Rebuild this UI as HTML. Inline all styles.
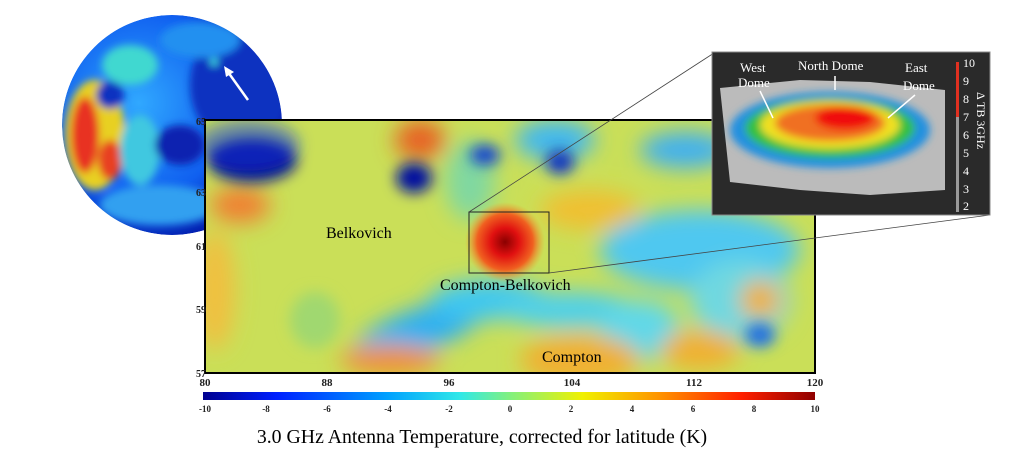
<!DOCTYPE html>
<html><head><meta charset="utf-8"><style>
body{margin:0;background:#fff;width:1024px;height:475px;overflow:hidden}
svg{display:block}
text{font-family:"Liberation Serif",serif}
</style></head><body>
<svg width="1024" height="475" viewBox="0 0 1024 475">
<defs>
<filter id="b8" x="-50%" y="-50%" width="200%" height="200%"><feGaussianBlur stdDeviation="7"/></filter>
<filter id="b4" x="-50%" y="-50%" width="200%" height="200%"><feGaussianBlur stdDeviation="4"/></filter>
<filter id="b12" x="-50%" y="-50%" width="200%" height="200%"><feGaussianBlur stdDeviation="11"/></filter>
<radialGradient id="red"><stop offset="0" stop-color="#8a0000"/><stop offset=".35" stop-color="#e01010"/><stop offset=".7" stop-color="#f06020"/><stop offset="1" stop-color="#f0a030" stop-opacity="0"/></radialGradient>
<linearGradient id="jet" x1="0" x2="1"><stop offset="0" stop-color="#00008f"/><stop offset=".12" stop-color="#0020ff"/><stop offset=".3" stop-color="#00a0ff"/><stop offset=".42" stop-color="#30e8e8"/><stop offset=".5" stop-color="#80f080"/><stop offset=".62" stop-color="#f0f000"/><stop offset=".75" stop-color="#ff9000"/><stop offset=".88" stop-color="#ff2000"/><stop offset="1" stop-color="#8f0000"/></linearGradient>
<radialGradient id="glob" cx=".35" cy=".4" r=".7"><stop offset="0" stop-color="#30a8ff"/><stop offset=".6" stop-color="#1060f0"/><stop offset="1" stop-color="#0010a0"/></radialGradient>
<clipPath id="gc"><circle cx="172" cy="125" r="110"/></clipPath>
<clipPath id="mc"><rect x="205" y="120" width="610" height="253"/></clipPath>
<clipPath id="ic"><rect x="714" y="54" width="262" height="159"/></clipPath>
</defs>
<g clip-path="url(#gc)">
<circle cx="172" cy="125" r="110" fill="url(#glob)"/>
<g filter="url(#b4)">
<ellipse cx="95" cy="135" rx="30" ry="55" fill="#e8d020"/>
<ellipse cx="85" cy="135" rx="14" ry="38" fill="#e83020"/>
<ellipse cx="110" cy="160" rx="12" ry="20" fill="#e84020"/>
<ellipse cx="130" cy="65" rx="28" ry="20" fill="#40d8d0"/>
<ellipse cx="110" cy="95" rx="14" ry="14" fill="#1030c0"/>
<ellipse cx="140" cy="150" rx="20" ry="35" fill="#40c8e0"/>
<ellipse cx="180" cy="145" rx="25" ry="20" fill="#0820b0"/>
<ellipse cx="240" cy="85" rx="50" ry="60" fill="#0a30c0"/>
<ellipse cx="200" cy="40" rx="40" ry="18" fill="#2090f0"/>
<ellipse cx="160" cy="205" rx="60" ry="20" fill="#30a0f0"/>
<circle cx="214" cy="62" r="4" fill="#40e0e0"/>
</g>
</g>
<line x1="248" y1="100" x2="228" y2="72" stroke="#fff" stroke-width="2.5"/>
<polygon points="224,66 234,72 226,77" fill="#fff"/>
<g clip-path="url(#mc)">
<rect x="205" y="120" width="610" height="253" fill="#cadf58"/>
<g filter="url(#b12)">
<ellipse cx="420" cy="330" rx="70" ry="22" fill="#30b0f0" transform="rotate(-20 420 330)"/>
<ellipse cx="490" cy="300" rx="60" ry="20" fill="#40c8f0"/>
<ellipse cx="570" cy="310" rx="70" ry="18" fill="#50d0ea"/>
<ellipse cx="640" cy="330" rx="40" ry="30" fill="#60d8e8"/>
<ellipse cx="700" cy="250" rx="100" ry="40" fill="#50c8f0"/>
<ellipse cx="740" cy="300" rx="50" ry="40" fill="#70d8e0"/>
<ellipse cx="580" cy="360" rx="60" ry="25" fill="#f0b030"/>
<ellipse cx="390" cy="360" rx="50" ry="15" fill="#f09030"/>
<ellipse cx="240" cy="205" rx="30" ry="18" fill="#f08030"/>
<ellipse cx="420" cy="140" rx="25" ry="20" fill="#e86020"/>
<ellipse cx="555" cy="140" rx="40" ry="20" fill="#40b8f0"/>
<ellipse cx="685" cy="150" rx="45" ry="18" fill="#40b0f0"/>
<ellipse cx="770" cy="150" rx="40" ry="25" fill="#70d0e0"/>
<ellipse cx="590" cy="210" rx="50" ry="20" fill="#f0c030"/>
<ellipse cx="760" cy="300" rx="20" ry="20" fill="#f0b030"/>
<ellipse cx="700" cy="350" rx="40" ry="20" fill="#f0b030"/>
<ellipse cx="470" cy="180" rx="25" ry="40" fill="#80d8a0"/>
<ellipse cx="215" cy="290" rx="20" ry="60" fill="#f0c040"/>
</g>
<g filter="url(#b8)">
<ellipse cx="252" cy="160" rx="45" ry="22" fill="#000890"/>
<ellipse cx="248" cy="145" rx="52" ry="26" fill="#1040e0" opacity=".5"/>
<ellipse cx="414" cy="178" rx="18" ry="15" fill="#0010a0"/>
<ellipse cx="485" cy="155" rx="15" ry="10" fill="#1040d0"/>
<ellipse cx="560" cy="162" rx="14" ry="12" fill="#1030c0"/>
<ellipse cx="315" cy="320" rx="25" ry="28" fill="#a0d870"/>
<ellipse cx="760" cy="335" rx="15" ry="12" fill="#2070e0"/>
</g>
<circle cx="505" cy="242" r="40" fill="url(#red)"/>
<rect x="469" y="212" width="80" height="61" fill="none" stroke="#222" stroke-width="1"/>
</g>
<rect x="205" y="120" width="610" height="253" fill="none" stroke="#000" stroke-width="2"/>
<text x="326" y="238" font-size="16">Belkovich</text>
<text x="440" y="290" font-size="16">Compton-Belkovich</text>
<text x="542" y="362" font-size="16">Compton</text>
<g font-size="10" font-weight="bold" fill="#222">
<text x="196" y="125">65</text><text x="196" y="196">63</text><text x="196" y="250">61</text><text x="196" y="313">59</text><text x="196" y="377">57</text>
</g>
<g font-size="11" font-weight="bold" fill="#222" text-anchor="middle">
<text x="205" y="386">80</text><text x="327" y="386">88</text><text x="449" y="386">96</text><text x="572" y="386">104</text><text x="694" y="386">112</text><text x="815" y="386">120</text>
</g>
<rect x="203" y="392" width="612" height="8" fill="url(#jet)"/>
<g font-size="9" font-weight="bold" fill="#222" text-anchor="middle">
<text x="205" y="412">-10</text><text x="266" y="412">-8</text><text x="327" y="412">-6</text><text x="388" y="412">-4</text><text x="449" y="412">-2</text><text x="510" y="412">0</text><text x="571" y="412">2</text><text x="632" y="412">4</text><text x="693" y="412">6</text><text x="754" y="412">8</text><text x="815" y="412">10</text>
</g>
<text x="482" y="443" font-size="19.8" text-anchor="middle">3.0 GHz Antenna Temperature, corrected for latitude (K)</text>
<line x1="469" y1="212" x2="714" y2="53" stroke="#444" stroke-width=".8"/>
<line x1="549" y1="273" x2="990" y2="215" stroke="#444" stroke-width=".8"/>
<rect x="712" y="52" width="278" height="163" fill="#2a2a2a" stroke="#888"/>
<g clip-path="url(#ic)">
<polygon points="720,88 800,80 870,82 945,90 945,190 870,195 800,190 730,182" fill="#bbb"/>
<g filter="url(#b4)">
<ellipse cx="830" cy="130" rx="100" ry="38" fill="#2090e0"/>
<ellipse cx="830" cy="128" rx="85" ry="30" fill="#30c040"/>
<ellipse cx="830" cy="125" rx="70" ry="24" fill="#f0e020"/>
<ellipse cx="830" cy="123" rx="55" ry="18" fill="#f07020"/>
<ellipse cx="845" cy="118" rx="30" ry="12" fill="#f01010"/>
</g>
</g>
<rect x="956" y="62" width="3" height="150" fill="#999"/>
<rect x="956" y="62" width="3" height="55" fill="#e03020"/>
<g font-size="13" fill="#fff">
<text x="740" y="72">West</text><text x="738" y="87">Dome</text>
<text x="798" y="70">North Dome</text>
<text x="905" y="72">East</text><text x="903" y="90">Dome</text>
</g>
<g stroke="#fff" stroke-width="1.5"><line x1="760" y1="91" x2="773" y2="118"/><line x1="835" y1="76" x2="835" y2="90"/><line x1="915" y1="95" x2="888" y2="118"/></g>
<g font-size="12" fill="#fff">
<text x="963" y="67">10</text><text x="963" y="85">9</text><text x="963" y="103">8</text><text x="963" y="121">7</text><text x="963" y="139">6</text><text x="963" y="157">5</text><text x="963" y="175">4</text><text x="963" y="193">3</text><text x="963" y="210">2</text>
</g>
<text x="977" y="92" font-size="12" fill="#fff" transform="rotate(90 977 92)">Δ TB 3GHz</text>
</svg>
</body></html>
